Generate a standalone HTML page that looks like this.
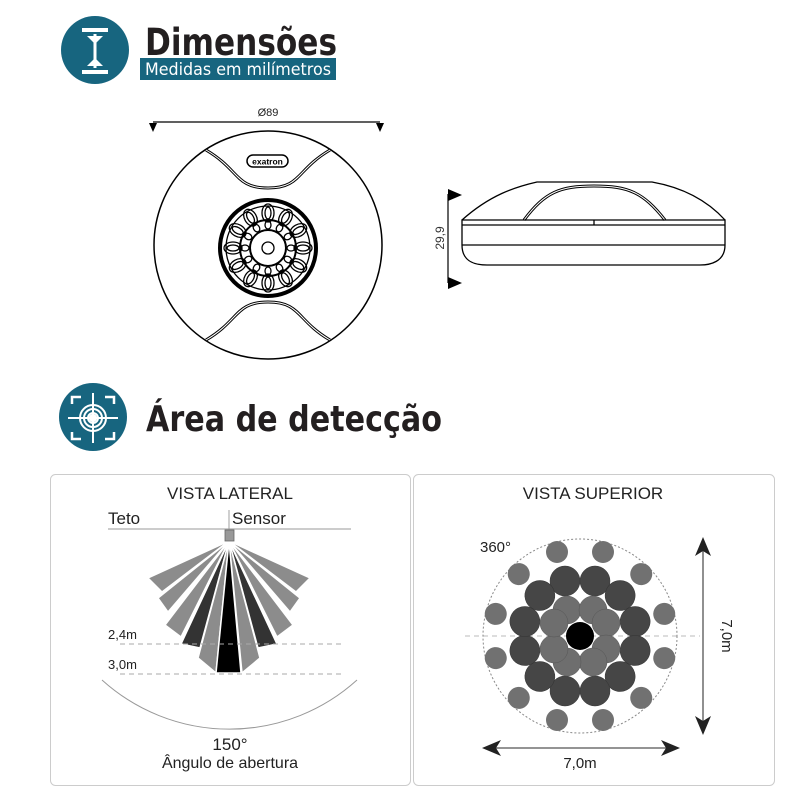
<!DOCTYPE html>
<html><head><meta charset="utf-8"><style>
body{margin:0;background:#fff;width:800px;height:800px;overflow:hidden;font-family:"Liberation Sans",sans-serif}
</style></head><body>
<svg width="800" height="800" viewBox="0 0 800 800" xmlns="http://www.w3.org/2000/svg" font-family="Liberation Sans, DejaVu Sans, sans-serif">
<!-- Header 1 -->
<circle cx="95" cy="50" r="34" fill="#17657f"/>
<g stroke="#fff" stroke-width="4" fill="#fff">
<line x1="82" y1="30" x2="108" y2="30"/><line x1="82" y1="72" x2="108" y2="72"/>
<line x1="95" y1="34" x2="95" y2="68" stroke-width="3"/>
<polygon points="87,36 103,36 95,44" stroke="none"/><polygon points="87,66 103,66 95,58" stroke="none"/>
</g>
<text x="145" y="55" font-size="37" font-weight="bold" fill="#231f20" font-family="DejaVu Sans, sans-serif" textLength="192" lengthAdjust="spacingAndGlyphs">Dimensões</text>
<rect x="140" y="58" width="196" height="22" fill="#17657f"/>
<text x="145" y="75" font-size="17" fill="#fff" font-family="DejaVu Sans, sans-serif" textLength="186" lengthAdjust="spacingAndGlyphs">Medidas em milímetros</text>

<!-- Top view -->
<line x1="153" y1="122" x2="380" y2="122" stroke="#000" stroke-width="1.2"/>
<polygon points="149,123 157,123 153,132" fill="#000"/><polygon points="376,123 384,123 380,132" fill="#000"/>
<text x="268" y="116" font-size="11" text-anchor="middle" fill="#222">Ø89</text>
<circle cx="268" cy="245" r="114" fill="none" stroke="#000" stroke-width="1.5"/>
<path d="M206,150 C240,170 235,188 268,188 C301,188 296,170 330,150" fill="none" stroke="#000" stroke-width="3"/>
<path d="M206,150 C240,170 235,188 268,188 C301,188 296,170 330,150" fill="none" stroke="#fff" stroke-width="1"/>
<path d="M206,340 C240,320 235,302 268,302 C301,302 296,320 330,340" fill="none" stroke="#000" stroke-width="3"/>
<path d="M206,340 C240,320 235,302 268,302 C301,302 296,320 330,340" fill="none" stroke="#fff" stroke-width="1"/>
<rect x="247" y="155" width="41" height="12" rx="6" fill="none" stroke="#000" stroke-width="1.5"/>
<text x="267.5" y="164.5" font-size="8.5" text-anchor="middle" font-weight="bold" fill="#000">exatron</text>
<circle cx="268" cy="248" r="48" fill="#fff" stroke="#000" stroke-width="4"/>
<g fill="none" stroke="#000" stroke-width="1.3">
<circle cx="268" cy="248" r="42"/><circle cx="268" cy="248" r="28" stroke-width="2"/><circle cx="268" cy="248" r="18" stroke-width="2"/><circle cx="268" cy="248" r="6"/>
<g id="pet">
<ellipse cx="268" cy="213" rx="6" ry="9"/><ellipse cx="268" cy="213" rx="3" ry="6"/>
<ellipse cx="268" cy="225" rx="3" ry="4"/>
</g>
<use href="#pet" transform="rotate(30 268 248)"/><use href="#pet" transform="rotate(60 268 248)"/><use href="#pet" transform="rotate(90 268 248)"/>
<use href="#pet" transform="rotate(120 268 248)"/><use href="#pet" transform="rotate(150 268 248)"/><use href="#pet" transform="rotate(180 268 248)"/>
<use href="#pet" transform="rotate(210 268 248)"/><use href="#pet" transform="rotate(240 268 248)"/><use href="#pet" transform="rotate(270 268 248)"/>
<use href="#pet" transform="rotate(300 268 248)"/><use href="#pet" transform="rotate(330 268 248)"/>
</g>

<!-- Side view -->
<line x1="448" y1="194" x2="448" y2="283" stroke="#000" stroke-width="1.2"/>
<polygon points="448,189 462,195 448,201" fill="#000"/><polygon points="448,277 462,283 448,289" fill="#000"/>
<text transform="translate(444,238) rotate(-90)" font-size="12" text-anchor="middle" fill="#333">29,9</text>
<g fill="none" stroke="#000" stroke-width="1.3">
<path d="M462,220 C490,195 515,187 537,182 L652,182 C680,187 705,198 725,220"/>
<path d="M524,220 C545,192 560,186 594,186 C628,186 643,192 665,220" stroke-width="3"/>
<path d="M524,220 C545,192 560,186 594,186 C628,186 643,192 665,220" stroke="#fff" stroke-width="1"/>
<path d="M462,220 L725,220 L725,245 C725,262 710,265 700,265 L487,265 C475,265 462,262 462,245 Z"/>
<line x1="462" y1="225" x2="725" y2="225"/><line x1="462" y1="245" x2="725" y2="245"/>
<line x1="594" y1="220" x2="594" y2="225"/>
</g>

<!-- Header 2 -->
<circle cx="93" cy="417" r="34" fill="#17657f"/>
<g stroke="#fff" stroke-width="2" fill="none">
<circle cx="93" cy="418" r="13"/><circle cx="93" cy="418" r="9"/><circle cx="93" cy="418" r="5"/>
<line x1="68" y1="418" x2="118" y2="418"/><line x1="93" y1="393" x2="93" y2="443"/>
<path d="M72,404 L72,397 L81,397 M105,397 L114,397 L114,404 M114,432 L114,439 L105,439 M81,439 L72,439 L72,432" stroke-width="2.5"/>
</g>
<circle cx="93" cy="418" r="4" fill="#fff"/>
<text x="146" y="431" font-size="36" font-weight="bold" fill="#231f20" font-family="DejaVu Sans, sans-serif" textLength="296" lengthAdjust="spacingAndGlyphs">Área de detecção</text>

<!-- Panels -->
<rect x="50.5" y="474.5" width="360" height="311" rx="5" fill="none" stroke="#ccc"/>
<rect x="413.5" y="474.5" width="361" height="311" rx="5" fill="none" stroke="#ccc"/>
<text x="230" y="499" font-size="17" text-anchor="middle" fill="#222">VISTA LATERAL</text>
<text x="593" y="499" font-size="17" text-anchor="middle" fill="#222">VISTA SUPERIOR</text>

<!-- lateral -->
<text x="108" y="524" font-size="17" fill="#222">Teto</text>
<text x="232" y="524" font-size="17" fill="#222">Sensor</text>
<line x1="229" y1="510" x2="229" y2="530" stroke="#888" stroke-width="0.8"/>
<line x1="108" y1="529" x2="351" y2="529" stroke="#999" stroke-width="1"/>
<g stroke="#fff" stroke-width="1.5">
<polygon points="229,541 148,578 162,592" fill="#8c8c8c"/>
<polygon points="229,541 310,578 296,592" fill="#8c8c8c"/>
<polygon points="229,541 158,598 168,612" fill="#8c8c8c"/>
<polygon points="229,541 300,598 290,612" fill="#8c8c8c"/>
<polygon points="229,541 165,625 181,637" fill="#8c8c8c"/>
<polygon points="229,541 293,625 277,637" fill="#8c8c8c"/>
<polygon points="229,541 181,644 200,648" fill="#333"/>
<polygon points="229,541 277,644 258,648" fill="#333"/>
<polygon points="229,541 198,658 216,673" fill="#8c8c8c"/>
<polygon points="229,541 260,658 242,673" fill="#8c8c8c"/>
<polygon points="229,541 216,673 241,673" fill="#000"/>
</g>
<rect x="225" y="530" width="9" height="11" fill="#999" stroke="#666" stroke-width="0.8"/>
<line x1="120" y1="644" x2="342" y2="644" stroke="#aaa" stroke-dasharray="5,4"/>
<line x1="120" y1="674" x2="342" y2="674" stroke="#aaa" stroke-dasharray="5,4"/>
<text x="108" y="639" font-size="13" fill="#222">2,4m</text>
<text x="108" y="669" font-size="13" fill="#222">3,0m</text>
<path d="M102,680 A190,190 0 0 0 357,680" fill="none" stroke="#999" stroke-width="1"/>
<text x="230" y="750" font-size="17" text-anchor="middle" fill="#222">150°</text>
<text x="230" y="768" font-size="16" text-anchor="middle" fill="#222">Ângulo de abertura</text>

<!-- superior -->
<line x1="465" y1="636" x2="700" y2="636" stroke="#bbb" stroke-dasharray="5,4"/>
<circle cx="580" cy="636" r="97" fill="none" stroke="#888" stroke-dasharray="2,2"/>
<g id="ring" fill="#717171">
<circle cx="557" cy="552" r="11"/><circle cx="603" cy="552" r="11"/>
</g>
<use href="#ring" transform="rotate(60 580 636)"/><use href="#ring" transform="rotate(120 580 636)"/><use href="#ring" transform="rotate(180 580 636)"/>
<use href="#ring" transform="rotate(240 580 636)"/><use href="#ring" transform="rotate(300 580 636)"/>
<g id="dk" fill="#464646" stroke="#333" stroke-width="0.5">
<circle cx="565" cy="581" r="15"/><circle cx="595" cy="581" r="15"/>
</g>
<use href="#dk" transform="rotate(60 580 636)"/><use href="#dk" transform="rotate(120 580 636)"/><use href="#dk" transform="rotate(180 580 636)"/>
<use href="#dk" transform="rotate(240 580 636)"/><use href="#dk" transform="rotate(300 580 636)"/>
<g id="md" fill="#6e6e6e" stroke="#555" stroke-width="0.5">
<circle cx="567" cy="610" r="14"/><circle cx="593" cy="610" r="14"/>
</g>
<use href="#md" transform="rotate(90 580 636)"/><use href="#md" transform="rotate(180 580 636)"/><use href="#md" transform="rotate(270 580 636)"/>
<circle cx="580" cy="636" r="14" fill="#000"/>
<text x="480" y="552" font-size="15" fill="#222">360°</text>
<line x1="703" y1="545" x2="703" y2="727" stroke="#555" stroke-width="1.3"/>
<polygon points="703,537 695,556 703,551 711,556" fill="#222"/>
<polygon points="703,735 695,716 703,721 711,716" fill="#222"/>
<text transform="translate(722,636) rotate(90)" font-size="15" text-anchor="middle" fill="#222">7,0m</text>
<line x1="490" y1="748" x2="672" y2="748" stroke="#555" stroke-width="1.3"/>
<polygon points="482,748 501,740 496,748 501,756" fill="#222"/>
<polygon points="680,748 661,740 666,748 661,756" fill="#222"/>
<text x="580" y="768" font-size="15" text-anchor="middle" fill="#222">7,0m</text>
</svg>
</body></html>
